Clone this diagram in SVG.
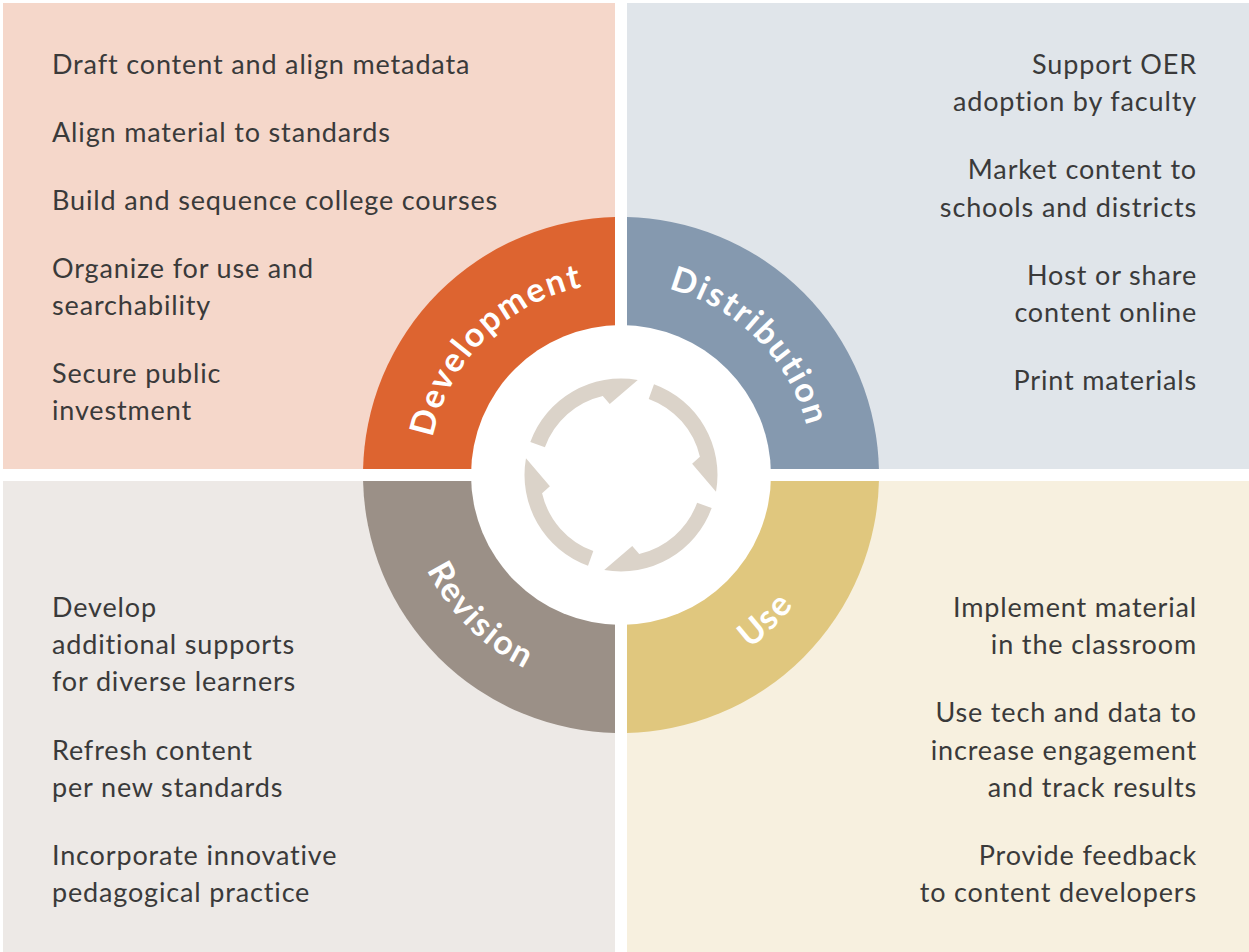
<svg xmlns="http://www.w3.org/2000/svg" width="1249" height="952" viewBox="0 0 1249 952">
<style>
.t{font-family:Lato,"Liberation Sans",sans-serif;font-size:27px;fill:#3a3a3a;letter-spacing:0.85px}
.r{text-anchor:end}
.lbl{font-family:Lato,"Liberation Sans",sans-serif;font-size:34px;font-weight:bold;fill:#ffffff;letter-spacing:2px;text-anchor:middle}
.arw{fill:#dbd3c9}
</style>
<defs>
<clipPath id="cTL"><rect x="0" y="0" width="615" height="469"/></clipPath>
<clipPath id="cTR"><rect x="627" y="0" width="622" height="469"/></clipPath>
<clipPath id="cBL"><rect x="0" y="481" width="615" height="471"/></clipPath>
<clipPath id="cBR"><rect x="627" y="481" width="622" height="471"/></clipPath>
<path id="pDev" d="M429 475 A192 192 0 0 1 621 283"/>
<path id="pDis" d="M621 283 A192 192 0 0 1 813 475"/>
<path id="pRev" d="M405 475 A216 216 0 0 0 621 691"/>
<path id="pUse" d="M621 691 A216 216 0 0 0 837 475"/>
<path id="arrow" d="M-90.68 -33.00 A96.5 96.5 0 0 1 16.76 -95.03 L-11.26 -71.11 L-18.22 -78.92 A81 81 0 0 0 -76.11 -27.70 Z"/>
</defs>
<rect width="1249" height="952" fill="#ffffff"/>
<g id="panel-development"><rect x="3" y="3" width="612" height="466" fill="#f5d7ca"/>
<text class="t" x="52" y="74">Draft content and align metadata</text>
<text class="t" x="52" y="142">Align material to standards</text>
<text class="t" x="52" y="210">Build and sequence college courses</text>
<text class="t" x="52" y="278">Organize for use and</text>
<text class="t" x="52" y="315">searchability</text>
<text class="t" x="52" y="383">Secure public</text>
<text class="t" x="52" y="420">investment</text>
</g>
<g id="panel-distribution"><rect x="627" y="3" width="622" height="466" fill="#e0e5ea"/>
<text class="t r" x="1197" y="74">Support OER</text>
<text class="t r" x="1197" y="111">adoption by faculty</text>
<text class="t r" x="1197" y="179">Market content to</text>
<text class="t r" x="1197" y="217">schools and districts</text>
<text class="t r" x="1197" y="285">Host or share</text>
<text class="t r" x="1197" y="322">content online</text>
<text class="t r" x="1197" y="390">Print materials</text>
</g>
<g id="panel-revision"><rect x="3" y="481" width="612" height="471" fill="#ede9e6"/>
<text class="t" x="52" y="617">Develop</text>
<text class="t" x="52" y="654">additional supports</text>
<text class="t" x="52" y="691">for diverse learners</text>
<text class="t" x="52" y="760">Refresh content</text>
<text class="t" x="52" y="797">per new standards</text>
<text class="t" x="52" y="865">Incorporate innovative</text>
<text class="t" x="52" y="902">pedagogical practice</text>
</g>
<g id="panel-use"><rect x="627" y="481" width="622" height="471" fill="#f7f0df"/>
<text class="t r" x="1197" y="617">Implement material</text>
<text class="t r" x="1197" y="654">in the classroom</text>
<text class="t r" x="1197" y="722">Use tech and data to</text>
<text class="t r" x="1197" y="760">increase engagement</text>
<text class="t r" x="1197" y="797">and track results</text>
<text class="t r" x="1197" y="865">Provide feedback</text>
<text class="t r" x="1197" y="902">to content developers</text>
</g>
<g id="ring-development"><circle cx="621" cy="475" r="258" fill="#dd6430" clip-path="url(#cTL)"/></g>
<g id="ring-distribution"><circle cx="621" cy="475" r="258" fill="#8599af" clip-path="url(#cTR)"/></g>
<g id="ring-revision"><circle cx="621" cy="475" r="258" fill="#9b9087" clip-path="url(#cBL)"/></g>
<g id="ring-use"><circle cx="621" cy="475" r="258" fill="#e0c77e" clip-path="url(#cBR)"/></g>
<circle cx="621" cy="475" r="150" fill="#ffffff"/>
<g id="labels">
<text class="lbl"><textPath href="#pDev" startOffset="50%">Development</textPath></text>
<text class="lbl"><textPath href="#pDis" startOffset="50%">Distribution</textPath></text>
<text class="lbl"><textPath href="#pRev" startOffset="50%">Revision</textPath></text>
<text class="lbl"><textPath href="#pUse" startOffset="50%">Use</textPath></text>
</g>
<g id="connectors" transform="translate(621 475)">
<use href="#arrow" class="arw"/>
<use href="#arrow" class="arw" transform="rotate(90)"/>
<use href="#arrow" class="arw" transform="rotate(180)"/>
<use href="#arrow" class="arw" transform="rotate(270)"/>
</g>
</svg>
